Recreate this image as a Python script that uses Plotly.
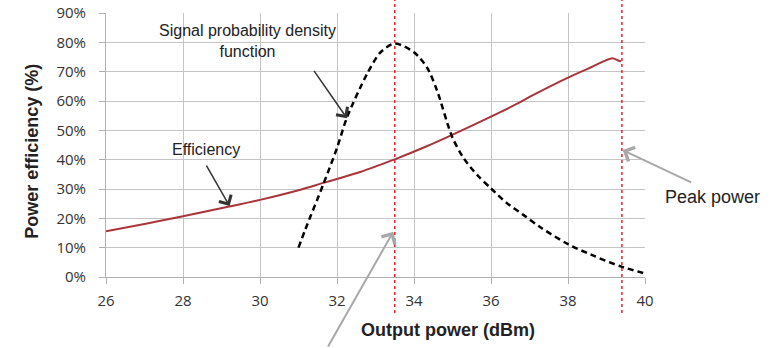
import plotly.graph_objects as go

# Efficiency of the power amplifier versus output power
eff_power = [26.0, 27.0, 28.0, 29.2, 30.0, 31.0, 31.65, 32.0, 32.6, 33.13, 33.5, 34.3, 34.95,
             36.0, 36.68, 37.0, 38.0, 38.6, 39.15, 39.3, 39.38]
eff_pct = [15.6, 18.1, 20.7, 24.0, 26.3, 29.6, 32.1, 33.4, 35.8, 38.3, 40.1, 44.4, 48.2,
           54.7, 59.1, 61.4, 68.0, 71.5, 74.6, 73.8, 73.5]

# Probability density of the signal envelope (scaled to the same axis)
pdf_power = [31.0, 31.18, 31.65, 32.0, 32.26, 32.78, 33.13, 33.5, 34.0, 34.34, 34.6, 34.99,
             35.29, 35.64, 36.0, 36.42, 36.85, 37.3, 38.0, 38.6, 39.37, 40.0]
pdf_pct = [10.0, 16.3, 31.8, 44.0, 54.4, 69.2, 76.6, 79.6, 76.6, 71.4, 63.5, 47.8,
           40.5, 34.8, 30.2, 25.1, 21.1, 16.8, 11.2, 7.6, 3.6, 1.2]

# Markers for average and peak output power
avg_power = 33.5
peak_power = 39.4

x_ticks = [26, 28, 30, 32, 34, 36, 38, 40]
y_ticks = [0, 10, 20, 30, 40, 50, 60, 70, 80, 90]
y_labels = [f"{v}%" for v in y_ticks]

fig = go.Figure()
fig.add_trace(go.Scatter(x=eff_power, y=eff_pct, mode="lines",
                         line=dict(color="#a9343a", width=2, shape="spline", smoothing=0.8),
                         showlegend=False, hoverinfo="skip"))
fig.add_trace(go.Scatter(x=pdf_power, y=pdf_pct, mode="lines",
                         line=dict(color="black", width=2.5, dash="6px,4px", shape="spline", smoothing=0.8),
                         showlegend=False, hoverinfo="skip"))

for xv in (avg_power, peak_power):
    fig.add_shape(type="line", xref="x", yref="paper", x0=xv, x1=xv, y0=-0.136, y1=1.06,
                  line=dict(color="#e8222c", width=1.5, dash="3px,3px"))

text_font = dict(family="Liberation Sans, Arial, sans-serif", color="#222222")


def paper_x(px):
    return (px - 106) / 539


def paper_y(py):
    return (277 - py) / 264


labels = [
    (247.5, 41.2, "Signal probability density<br>function", 16, 0),
    (205.8, 149.3, "Efficiency", 16, 0),
    (712.5, 197.3, "Peak power", 18, 0),
    (448, 330, "<b>Output power (dBm)</b>", 18, 0),
    (31.7, 151, "<b>Power efficiency (%)</b>", 18, -90),
]
for px, py, txt, size, angle in labels:
    fig.add_annotation(x=paper_x(px), y=paper_y(py), xref="paper", yref="paper",
                       xanchor="center", yanchor="middle", text=txt, showarrow=False,
                       textangle=angle, align="center", font=dict(size=size, **text_font))

arrows = [
    (32.26, 54.1, -34, -49, "#333333", 1.5, 1.8),
    (29.21, 24.2, -24, -42, "#333333", 1.5, 1.8),
    (39.42, 43.3, 70, 33, "#a8a8a8", 2, 1.5),
    (33.46, 15.4, -66, 129, "#a8a8a8", 2, 1.5),
]
for x, y, ax, ay, col, w, s in arrows:
    fig.add_annotation(x=x, y=y, xref="x", yref="y", text="", showarrow=True, ax=ax, ay=ay,
                       arrowhead=4, arrowsize=s, arrowwidth=w, arrowcolor=col)

tick_font = dict(family="Open Sans, sans-serif", size=15, color="#333333")
fig.update_xaxes(range=[26, 40], tickvals=x_ticks, showgrid=True, gridcolor="#c4c4c4", gridwidth=1,
                 showline=True, linecolor="#b0b0b0", ticks="outside", ticklen=6, tickcolor="#b0b0b0",
                 tickfont=tick_font, zeroline=False, fixedrange=True, automargin=False,
                 ticklabelstandoff=4)
fig.update_yaxes(range=[0, 90], tickvals=y_ticks, ticktext=y_labels, showgrid=True,
                 gridcolor="#c4c4c4", gridwidth=1, showline=True, linecolor="#b0b0b0",
                 ticks="outside", ticklen=6, tickcolor="#b0b0b0", tickfont=tick_font,
                 zeroline=False, ticklabelstandoff=10, fixedrange=True, automargin=False)
fig.update_layout(width=773, height=348, margin=dict(l=106, r=128, t=13, b=71),
                  plot_bgcolor="white", paper_bgcolor="white")
fig.write_html("out.html")
